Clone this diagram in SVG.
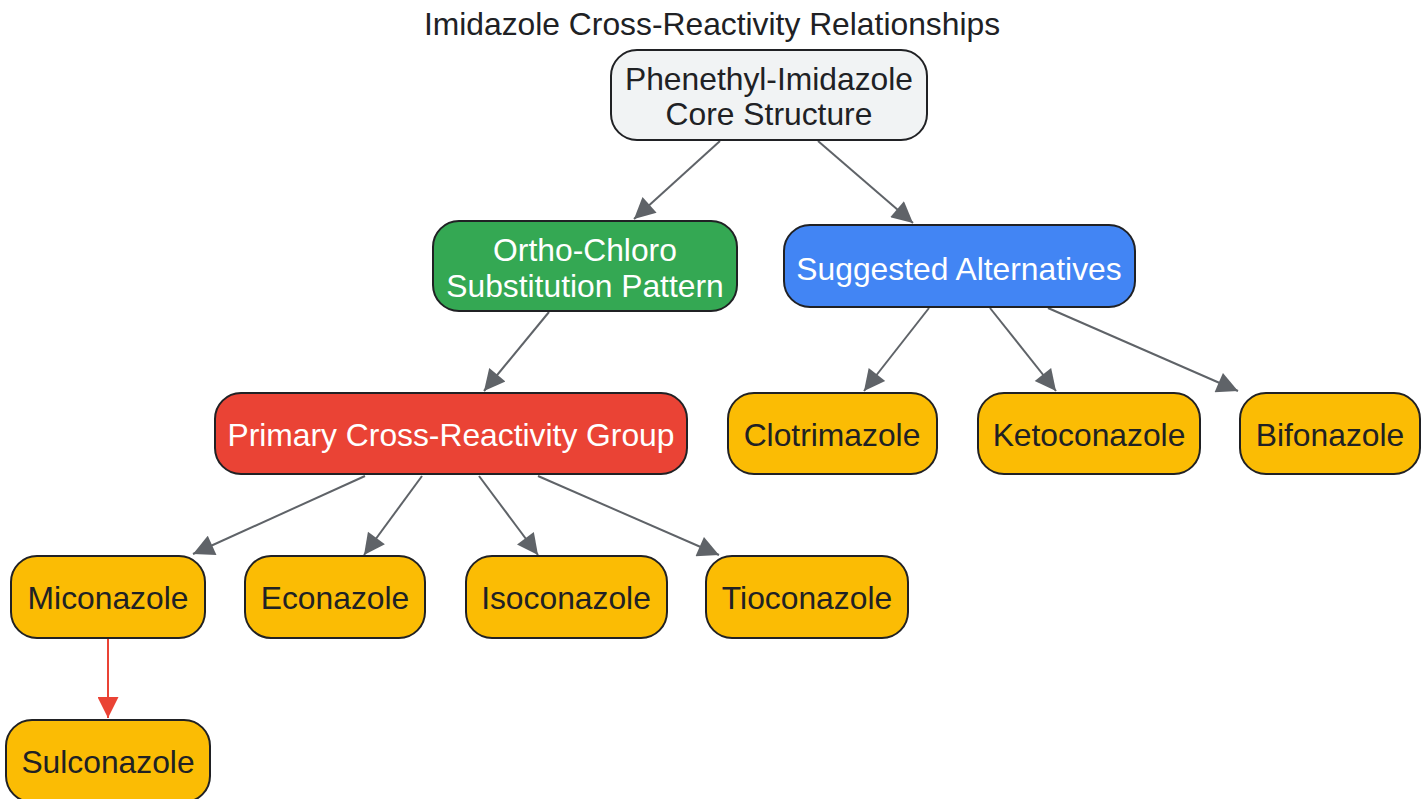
<svg xmlns="http://www.w3.org/2000/svg" width="1428" height="799" viewBox="0 0 1428 799">
<style>
.n{stroke:#202124;stroke-width:2}
.t{font-family:"Liberation Sans",Arial,sans-serif;font-size:31.8px;text-anchor:middle;fill:#202124}
.w{fill:#ffffff}
.e{stroke:#5f6368;stroke-width:2;fill:none}
.r{stroke:#ea4335;stroke-width:2;fill:none}
</style>
<defs>
<marker id="ag" viewBox="0 0 10 10" refX="10" refY="5" markerWidth="27" markerHeight="21" markerUnits="userSpaceOnUse" orient="auto"><path d="M0,0 L10,5 L0,10 z" fill="#5f6368"/></marker>
<marker id="ar" viewBox="0 0 10 10" refX="10" refY="5" markerWidth="27" markerHeight="21" markerUnits="userSpaceOnUse" orient="auto"><path d="M0,0 L10,5 L0,10 z" fill="#ea4335"/></marker>
</defs>
<rect width="1428" height="799" fill="#ffffff"/>
<text class="t" x="712" y="35">Imidazole Cross-Reactivity Relationships</text>
<g id="connectors">
<line class="e" x1="720" y1="141" x2="634" y2="219" marker-end="url(#ag)"/>
<line class="e" x1="818" y1="141" x2="913" y2="223" marker-end="url(#ag)"/>
<line class="e" x1="549" y1="312" x2="484" y2="391" marker-end="url(#ag)"/>
<line class="e" x1="929" y1="308" x2="864" y2="391" marker-end="url(#ag)"/>
<line class="e" x1="990" y1="308" x2="1056" y2="391" marker-end="url(#ag)"/>
<line class="e" x1="1048" y1="308" x2="1238" y2="391" marker-end="url(#ag)"/>
<line class="e" x1="365" y1="476" x2="193" y2="554" marker-end="url(#ag)"/>
<line class="e" x1="422" y1="476" x2="364" y2="555" marker-end="url(#ag)"/>
<line class="e" x1="479" y1="476" x2="538" y2="555" marker-end="url(#ag)"/>
<line class="e" x1="538" y1="476" x2="719" y2="555" marker-end="url(#ag)"/>
<line class="r" x1="108" y1="639" x2="108" y2="718" marker-end="url(#ar)"/>
</g>
<g id="core"><rect class="n" x="611" y="50" width="316" height="90" rx="26" fill="#f1f3f4"/><text class="t" x="769" y="90">Phenethyl-Imidazole</text><text class="t" x="769" y="125">Core Structure</text></g>
<g id="ortho"><rect class="n" x="433" y="221" width="304" height="90" rx="26" fill="#34a853"/><text class="t w" x="585" y="261">Ortho-Chloro</text><text class="t w" x="585" y="297">Substitution Pattern</text></g>
<g id="alternatives"><rect class="n" x="784" y="225" width="351" height="82" rx="26" fill="#4285f4"/><text class="t w" x="959" y="280">Suggested Alternatives</text></g>
<g id="primary"><rect class="n" x="215" y="393" width="472" height="81" rx="26" fill="#ea4335"/><text class="t w" x="451" y="446">Primary Cross-Reactivity Group</text></g>
<g id="clotrimazole"><rect class="n" x="728" y="393" width="209" height="81" rx="26" fill="#fbbc04"/><text class="t" x="832" y="446">Clotrimazole</text></g>
<g id="ketoconazole"><rect class="n" x="978" y="393" width="222" height="81" rx="26" fill="#fbbc04"/><text class="t" x="1089" y="446">Ketoconazole</text></g>
<g id="bifonazole"><rect class="n" x="1240" y="393" width="180" height="81" rx="26" fill="#fbbc04"/><text class="t" x="1330" y="446">Bifonazole</text></g>
<g id="miconazole"><rect class="n" x="11" y="556" width="194" height="82" rx="26" fill="#fbbc04"/><text class="t" x="108" y="609">Miconazole</text></g>
<g id="econazole"><rect class="n" x="245" y="556" width="180" height="82" rx="26" fill="#fbbc04"/><text class="t" x="335" y="609">Econazole</text></g>
<g id="isoconazole"><rect class="n" x="466" y="556" width="201" height="82" rx="26" fill="#fbbc04"/><text class="t" x="566" y="609">Isoconazole</text></g>
<g id="tioconazole"><rect class="n" x="706" y="556" width="202" height="82" rx="26" fill="#fbbc04"/><text class="t" x="807" y="609">Tioconazole</text></g>
<g id="sulconazole"><rect class="n" x="6" y="720" width="204" height="82" rx="26" fill="#fbbc04"/><text class="t" x="108" y="773">Sulconazole</text></g>
</svg>
